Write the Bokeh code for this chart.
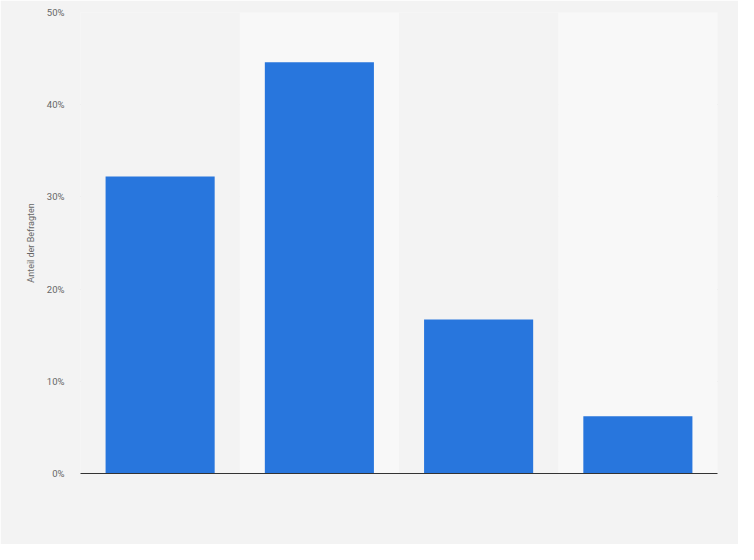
from bokeh.plotting import figure
from bokeh.models import Range1d, FixedTicker
from bokeh.embed import file_html
from bokeh.resources import INLINE

categories = ["A", "B", "C", "D"]
values = [32.2, 44.6, 16.7, 6.2]
y_ticks = [0, 10, 20, 30, 40, 50]
y_tick_labels = ["0%", "10%", "20%", "30%", "40%", "50%"]
band_colors = ["#f3f3f3", "#f8f8f8", "#f3f3f3", "#f8f8f8"]

xs = list(range(1, len(categories) + 1))

p = figure(width=738, height=544, output_backend="svg", toolbar_location=None,
           x_range=Range1d(0.5, len(categories) + 0.5), y_range=Range1d(0, 50),
           min_border_left=80, min_border_right=21, min_border_top=12, min_border_bottom=71)
p.background_fill_color = "#f3f3f3"
p.border_fill_color = "#f3f3f3"
p.outline_line_color = None

# alternating column bands
p.vbar(x=xs, width=1.0, bottom=0, top=50, fill_color=band_colors, line_color=None)

p.ygrid.ticker = FixedTicker(ticks=y_ticks)
p.ygrid.grid_line_color = "#d8d8d8"
p.ygrid.grid_line_dash = "1 1"
p.ygrid.grid_line_width = 1
p.xgrid.grid_line_color = None

p.vbar(x=xs, width=0.685, bottom=0, top=values, fill_color="#2876dd", line_color=None)

p.yaxis.ticker = FixedTicker(ticks=y_ticks)
p.yaxis.major_label_overrides = {t: l for t, l in zip(y_ticks, y_tick_labels)}
p.yaxis.axis_line_color = None
p.yaxis.major_tick_line_color = None
p.yaxis.minor_tick_line_color = None
p.yaxis.major_label_text_font = "Roboto"
p.yaxis.major_label_text_font_size = "9.5px"
p.yaxis.major_label_text_color = "#666666"
p.yaxis.major_label_standoff = 10
p.yaxis.axis_label = "Anteil der Befragten"
p.yaxis.axis_label_text_font = "Roboto"
p.yaxis.axis_label_text_font_style = "normal"
p.yaxis.axis_label_text_font_size = "9px"
p.yaxis.axis_label_text_color = "#666666"
p.yaxis.axis_label_standoff = 8

p.xaxis.ticker = FixedTicker(ticks=[])
p.xaxis.axis_line_color = "#333333"
p.xaxis.axis_line_width = 1.2
p.xaxis.major_tick_line_color = None
p.xaxis.minor_tick_line_color = None
p.xaxis.major_label_text_font_size = "0px"

open("out.html", "w").write(file_html(p, INLINE))
